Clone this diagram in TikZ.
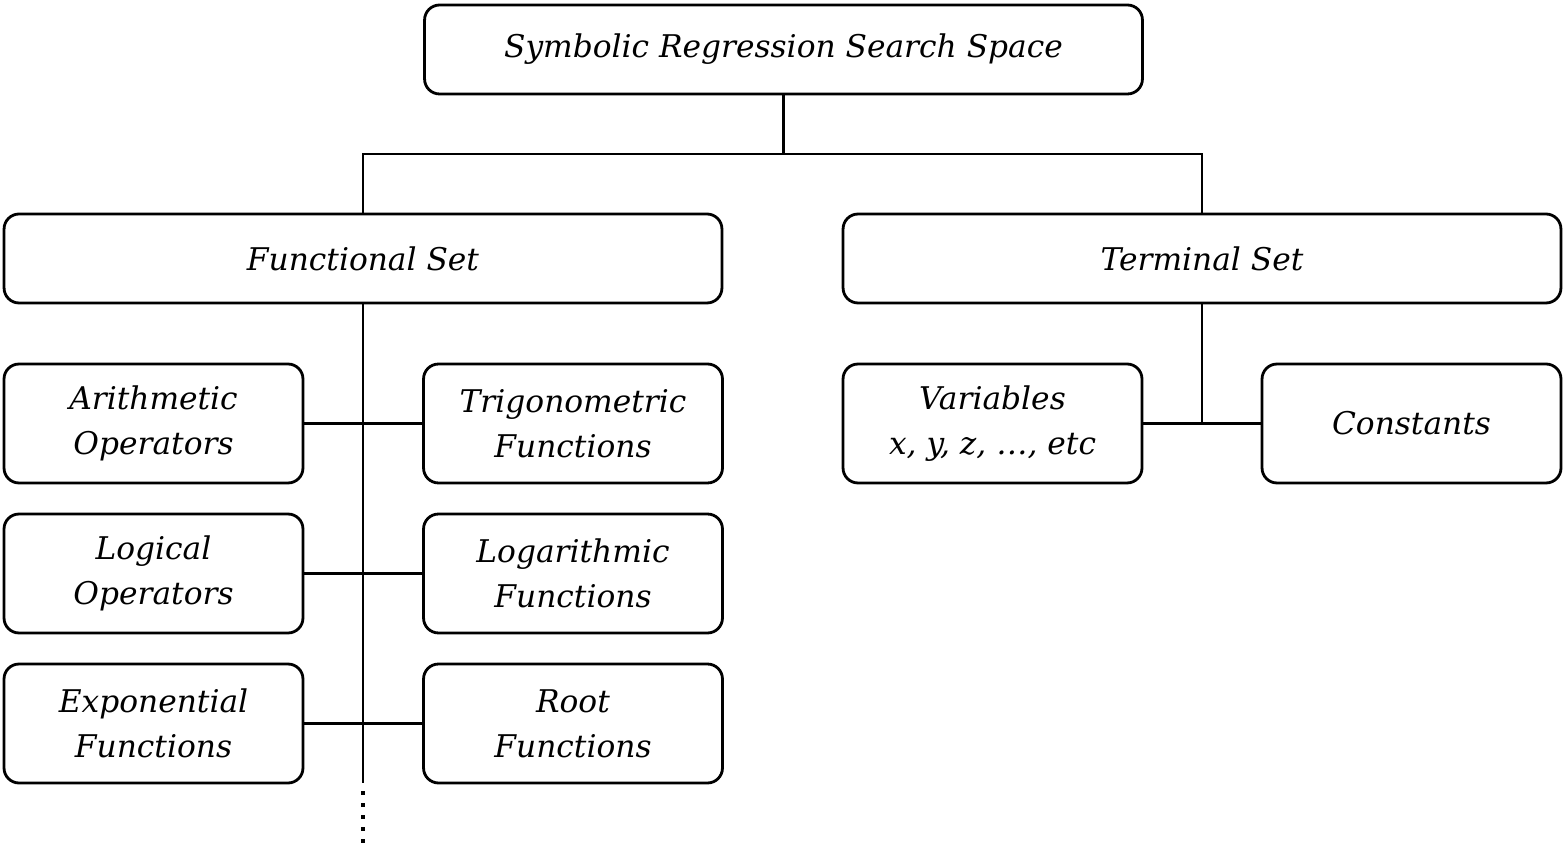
\documentclass[tikz,border=0pt]{standalone}
\usepackage{fontspec}
\setmainfont{DejaVu Serif}
\usetikzlibrary{calc}

\begin{document}
\begin{tikzpicture}[
    x=0.02cm, y=-0.02cm,
    box/.style={draw, rounded corners=0.3cm, line width=1.6pt, inner sep=0pt,
      font=\fontsize{17.8}{25.5}\selectfont\itshape, align=center},
    wide/.style={box, minimum width=14.36cm, minimum height=1.78cm},
    small/.style={box, minimum width=5.98cm, minimum height=2.38cm},
    link/.style={line width=1.6pt},
  ]
  \useasboundingbox (0,0) rectangle (1567,857);
  % top level
  \node[wide] (root) at (783.5,49.5) {Symbolic Regression Search Space};
  \node[wide] (func) at (363,258.5) {Functional Set};
  \node[wide] (term) at (1202,258.5) {Terminal Set};
  % functional set members
  \node[small] (arith) at (153.5,423.5) {Arithmetic\\Operators};
  \node[small] (trig) at (573,423.5) {Trigonometric\\Functions};
  \node[small] (logic) at (153.5,573.5) {Logical\\Operators};
  \node[small] (loga) at (573,573.5) {Logarithmic\\Functions};
  \node[small] (expo) at (153.5,723.5) {Exponential\\Functions};
  \node[small] (root2) at (573,723.5) {Root\\Functions};
  % terminal set members
  \node[small] (vars) at (992.5,423.5) {Variables\\x, y, z, \dots, etc};
  \node[small] (const) at (1411.5,423.5) {Constants};
  \coordinate (split) at (783.5,154);
  \coordinate (fend) at (363,783);
  % connectors
  \draw[link] (root.south) -- (split);
  \draw[link] (func.north) |- (split) -| (term.north);
  \draw[link] (func.south) -- (fend);
  \foreach \d in {0,...,4}
    \fill ($(fend)+(-2,8+12*\d)$) rectangle +(4,4);
  \draw[link] (arith.east) -- (trig.west);
  \draw[link] (logic.east) -- (loga.west);
  \draw[link] (expo.east) -- (root2.west);
  \draw[link] (term.south) -- (term.south |- vars.east);
  \draw[link] (vars.east) -- (const.west);
\end{tikzpicture}
\end{document}
